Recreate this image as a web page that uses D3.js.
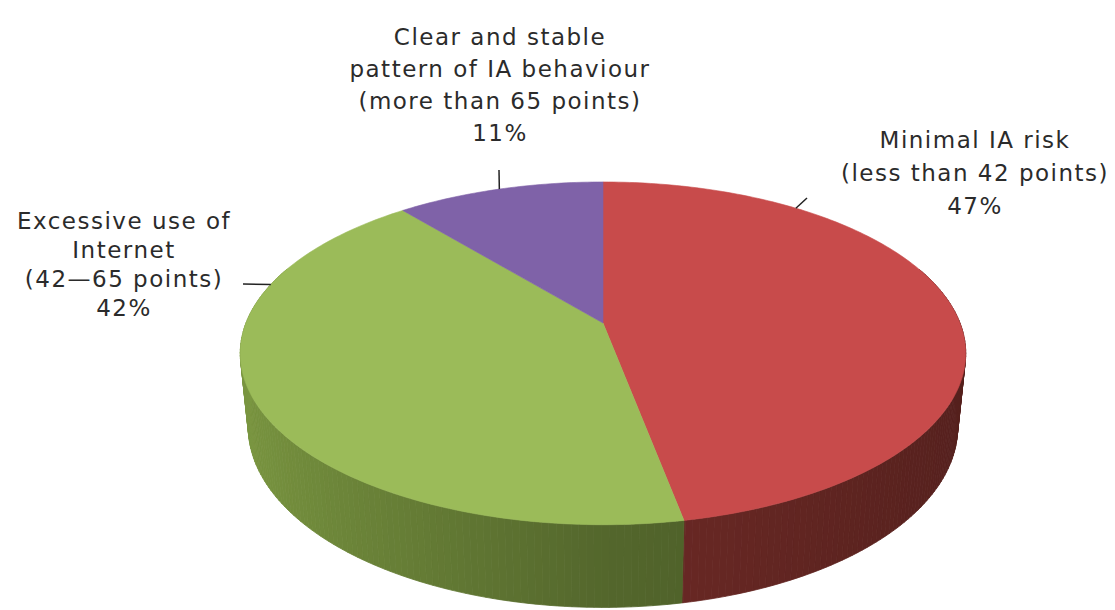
<!DOCTYPE html>
<html>
<head>
<meta charset="utf-8">
<script src="https://cdn.jsdelivr.net/npm/d3@7"></script>
<style>
  body { margin: 0; background: #fff; }
  svg { display: block; }
  .lbl { font-family: "DejaVu Sans", Verdana, sans-serif; font-size: 23px; letter-spacing: 1.5px; fill: #2b2b2b; }
</style>
</head>
<body>
<div id="chart"></div>
<script>
// data
var categories = ['Minimal IA risk', 'Excessive use of Internet', 'Clear and stable pattern of IA behaviour'];
var values = [47, 42, 11];
var labelLines = [
    ['Minimal IA risk', '(less than 42 points)', '47%'],
    ['Excessive use of', 'Internet', '(42\u201465 points)', '42%'],
    ['Clear and stable', 'pattern of IA behaviour', '(more than 65 points)', '11%']
];
var colors = ['#c84b4b', '#9bbb59', '#7f62a8'];

var svgWidth = 1115;
var svgHeight = 610;

var svg = d3.select('#chart')
    .append('svg')
    .attr('width', svgWidth)
    .attr('height', svgHeight);

// perspective camera for the 3d pie
var cx = 603, cy = 323;
var sinT = 0.465, cosT = Math.sqrt(1 - sinT * sinT);
var D0 = 5.0, focal = 1785, depth = 0.235;

function project(theta, r, h) {
    var u = r * Math.sin(theta);
    var v = -r * Math.cos(theta);
    var X = u;
    var Y = v * sinT + h * cosT;
    var Z = D0 - v * cosT + h * sinT;
    return [cx + focal * X / Z, cy + focal * Y / Z];
}

var pie = d3.pie().sort(null).value(d => d);
var arcs = pie(values);

// darker sides, lighter towards the left
function shade(color, theta) {
    var s = Math.sin(theta);
    var k = s > 0 ? 0.54 - 0.12 * s : 0.54 - 0.25 * s;
    var c = d3.rgb(color);
    return d3.rgb(c.r * k, c.g * k * 1.02, c.b * k * 0.92).toString();
}

// side walls (front facing part), drawn as thin strips
var walls = svg.append('g').attr('class', 'walls');
arcs.forEach(function(a, i) {
    var step = Math.PI / 180;
    for (var t = a.startAngle; t < a.endAngle - 1e-9; t += step) {
        var t2 = Math.min(t + step, a.endAngle);
        if (Math.cos((t + t2) / 2) > 0.35) continue;
        var p1 = project(t, 1, 0), p2 = project(t2, 1, 0);
        var p3 = project(t2, 1, depth), p4 = project(t, 1, depth);
        var col = shade(colors[i], (t + t2) / 2);
        walls.append('path')
            .attr('d', 'M' + [p1, p2, p3, p4].join('L') + 'Z')
            .attr('fill', col)
            .attr('stroke', col)
            .attr('stroke-width', 0.8);
    }
});

// top faces
var line = d3.line();
var tops = svg.append('g').attr('class', 'tops');
arcs.forEach(function(a, i) {
    var pts = [project(0, 0, 0)];
    var n = Math.max(8, Math.ceil((a.endAngle - a.startAngle) / (Math.PI / 180)));
    for (var k = 0; k <= n; k++) {
        var t = a.startAngle + (a.endAngle - a.startAngle) * k / n;
        pts.push(project(t, 1, 0));
    }
    tops.append('path')
        .attr('d', line(pts) + 'Z')
        .attr('fill', colors[i])
        .attr('stroke', colors[i])
        .attr('stroke-width', 0.6);
});

// labels, with leader lines to the pie rim
var labelPos = [
    {x: 975, y: 148, dy: 33, rim: 38, lead: [807, 198]},
    {x: 124, y: 229, dy: 29, rim: 284, lead: [243, 284]},
    {x: 500, y: 45, dy: 32, rim: 340.2, lead: [499, 170]}
];

labelLines.forEach(function(lines, i) {
    var lp = labelPos[i];
    var txt = svg.append('text')
        .attr('class', 'lbl')
        .attr('text-anchor', 'middle');
    lines.forEach(function(l, j) {
        txt.append('tspan')
            .attr('x', lp.x)
            .attr('y', lp.y + j * lp.dy)
            .text(l);
    });
    var anchor = project(lp.rim * Math.PI / 180, 1, 0);
    svg.append('line')
        .attr('x1', lp.lead[0]).attr('y1', lp.lead[1])
        .attr('x2', anchor[0]).attr('y2', anchor[1])
        .attr('stroke', '#222')
        .attr('stroke-width', 1.5);
});
</script>
</body>
</html>
